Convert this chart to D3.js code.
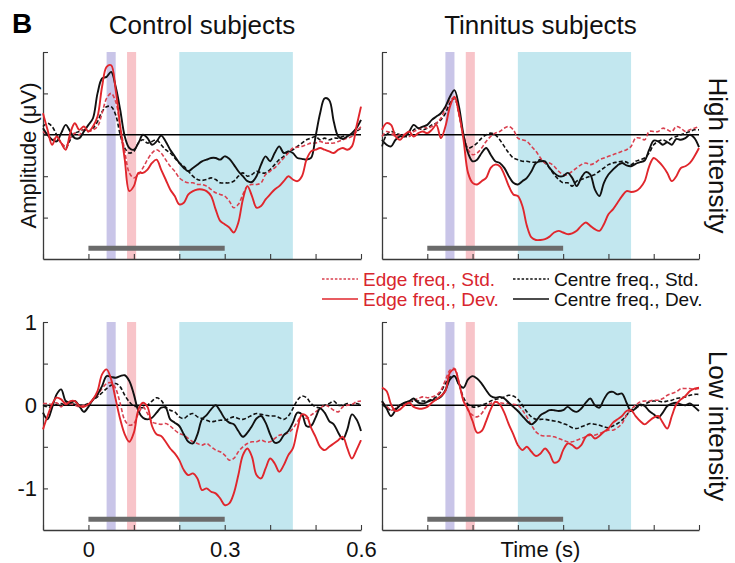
<!DOCTYPE html>
<html><head><meta charset="utf-8">
<script src="https://cdn.jsdelivr.net/npm/d3@7"></script>
<style>
body{margin:0;background:#fff}
svg{display:block}
text{font-family:"Liberation Sans",Arial,Helvetica,sans-serif}
</style>
</head><body>
<svg id="chart" width="735" height="563"></svg>
<script>
// ---------- DATA ----------
// sampling grid of the waveforms (s)
const times = d3.range(-10, 61).map(i => i / 100);
const xTicks = [-0.1, 0, 0.1, 0.2, 0.3, 0.4, 0.5, 0.6];
const xTickLabels = ["0", "0.3", "0.6"];           // shown at 0, 0.3, 0.6
const xTickLabelValues = [0, 0.3, 0.6];
const yTicks = [1, 0.5, 0, -0.5, -1];
const yTickLabelValues = [1, 0, -1];
const yDomain = [-1.5, 1];
const xDomain = [-0.1, 0.6];
const bandRanges = [[0.04, 0.06], [0.085, 0.105], [0.2, 0.45]];
const grayBarRange = [0, 0.3];
const grayBarLevel = -1.37;
const columnTitles = ["Control subjects", "Tinnitus subjects"];
const rowTitles = ["High intensity", "Low intensity"];
const legendLabels = ["Edge freq., Std.", "Edge freq., Dev.", "Centre freq., Std.", "Centre freq., Dev."];

// Control, high intensity
const ctrlHighEdgeStd = [0.04,0.00,-0.06,-0.04,-0.10,-0.14,-0.04,0.02,0.00,0.06,
 0.04,0.06,0.10,0.26,0.44,0.50,0.40,0.10,-0.20,-0.46,
 -0.52,-0.48,-0.40,-0.30,-0.22,-0.18,-0.22,-0.30,-0.38,-0.44,
 -0.52,-0.56,-0.58,-0.58,-0.60,-0.60,-0.62,-0.66,-0.70,-0.72,
 -0.74,-0.80,-0.88,-0.84,-0.72,-0.62,-0.60,-0.60,-0.58,-0.48,
 -0.44,-0.40,-0.34,-0.28,-0.22,-0.16,-0.15,-0.14,-0.12,-0.10,
 -0.10,-0.08,-0.10,-0.10,-0.10,-0.08,-0.06,-0.04,-0.02,0.04,
 0.10];
const ctrlHighEdgeDev = [0.26,0.06,-0.12,-0.02,-0.10,-0.18,0.02,0.14,0.06,0.10,
 0.04,0.10,0.22,0.58,0.82,0.84,0.54,0.10,-0.30,-0.68,
 -0.62,-0.46,-0.46,-0.42,-0.34,-0.30,-0.42,-0.54,-0.66,-0.74,
 -0.84,-0.82,-0.72,-0.68,-0.66,-0.66,-0.68,-0.74,-0.90,-1.04,
 -1.08,-1.12,-1.18,-1.06,-0.78,-0.62,-0.74,-0.88,-0.86,-0.78,
 -0.72,-0.66,-0.62,-0.56,-0.50,-0.54,-0.56,-0.50,-0.30,-0.20,
 -0.18,-0.16,-0.18,-0.20,-0.22,-0.18,-0.16,-0.18,-0.14,0.10,
 0.34];
const ctrlHighCentreStd = [0.10,0.14,0.10,0.00,-0.10,-0.16,-0.06,0.02,0.04,0.06,
 0.04,0.08,0.16,0.28,0.34,0.34,0.24,0.00,-0.16,-0.22,
 -0.20,-0.10,-0.06,-0.10,-0.08,-0.06,-0.12,-0.18,-0.22,-0.28,
 -0.34,-0.38,-0.44,-0.50,-0.54,-0.55,-0.54,-0.52,-0.54,-0.58,
 -0.58,-0.58,-0.56,-0.50,-0.46,-0.50,-0.48,-0.44,-0.46,-0.46,
 -0.42,-0.36,-0.30,-0.26,-0.20,-0.18,-0.14,-0.10,-0.06,-0.04,
 -0.02,-0.06,-0.04,-0.06,-0.04,-0.04,-0.02,0.00,0.00,0.04,
 0.08];
const ctrlHighCentreDev = [0.08,0.00,-0.06,-0.08,0.02,0.12,0.04,-0.04,-0.04,0.04,
 0.12,0.20,0.50,0.68,0.70,0.76,0.58,0.30,-0.02,-0.16,
 -0.18,-0.10,0.00,-0.04,-0.12,-0.08,-0.01,-0.08,-0.18,-0.26,
 -0.34,-0.40,-0.44,-0.40,-0.36,-0.32,-0.30,-0.28,-0.28,-0.30,
 -0.26,-0.29,-0.36,-0.44,-0.50,-0.56,-0.57,-0.50,-0.36,-0.26,
 -0.32,-0.22,-0.14,-0.22,-0.20,-0.22,-0.28,-0.29,-0.30,-0.28,
 -0.02,0.26,0.44,0.42,0.16,-0.02,-0.05,-0.02,0.02,0.08,
 0.18];

// Tinnitus, high intensity
const tinHighEdgeStd = [-0.02,0.04,0.02,-0.02,0.00,0.00,-0.02,0.04,0.06,0.10,
 0.08,0.10,0.14,0.20,0.32,0.42,0.44,0.24,0.00,-0.18,
 -0.24,-0.22,-0.16,-0.08,-0.02,0.02,0.04,0.08,0.10,0.06,
 -0.04,-0.06,-0.08,-0.14,-0.20,-0.28,-0.34,-0.34,-0.38,-0.44,
 -0.48,-0.48,-0.44,-0.40,-0.36,-0.34,-0.36,-0.34,-0.30,-0.28,
 -0.26,-0.24,-0.22,-0.20,-0.18,-0.14,-0.04,-0.04,-0.06,0.04,
 0.04,0.04,0.08,0.06,0.04,0.10,0.08,0.04,0.06,0.08,
 0.10];
const tinHighEdgeDev = [0.06,0.14,0.12,-0.02,-0.06,0.00,0.04,-0.02,0.02,0.04,
 0.02,0.06,0.12,-0.04,0.10,0.34,0.46,0.26,-0.06,-0.46,
 -0.58,-0.60,-0.56,-0.52,-0.40,-0.36,-0.38,-0.48,-0.62,-0.72,
 -0.74,-0.86,-1.10,-1.24,-1.27,-1.27,-1.26,-1.23,-1.18,-1.16,
 -1.18,-1.20,-1.19,-1.16,-1.10,-1.06,-1.10,-1.14,-1.16,-1.08,
 -0.96,-0.90,-0.82,-0.74,-0.68,-0.69,-0.68,-0.64,-0.56,-0.38,
 -0.28,-0.32,-0.38,-0.46,-0.56,-0.50,-0.40,-0.38,-0.34,-0.26,
 -0.16];
const tinHighCentreStd = [-0.14,0.00,0.04,0.02,0.00,-0.02,-0.02,0.06,0.08,0.06,
 0.08,0.12,0.14,0.18,0.26,0.38,0.44,0.26,-0.02,-0.16,
 -0.14,-0.10,-0.04,0.00,0.02,0.00,-0.06,-0.14,-0.22,-0.28,
 -0.30,-0.32,-0.32,-0.33,-0.33,-0.30,-0.34,-0.40,-0.48,-0.54,
 -0.58,-0.58,-0.62,-0.56,-0.54,-0.52,-0.50,-0.48,-0.44,-0.40,
 -0.36,-0.34,-0.33,-0.32,-0.33,-0.36,-0.32,-0.30,-0.28,-0.22,
 -0.12,-0.08,-0.06,-0.08,-0.04,-0.02,0.00,0.02,0.04,0.06,
 0.06];
const tinHighCentreDev = [-0.06,-0.12,-0.14,-0.06,-0.02,-0.02,0.04,0.12,0.08,0.10,
 0.12,0.18,0.22,0.26,0.34,0.46,0.54,0.34,0.00,-0.22,
 -0.32,-0.30,-0.22,-0.16,-0.24,-0.32,-0.34,-0.40,-0.50,-0.58,
 -0.60,-0.56,-0.52,-0.44,-0.34,-0.32,-0.32,-0.40,-0.46,-0.50,
 -0.50,-0.46,-0.52,-0.62,-0.52,-0.45,-0.48,-0.66,-0.74,-0.58,
 -0.48,-0.42,-0.37,-0.34,-0.37,-0.38,-0.35,-0.33,-0.31,-0.18,
 -0.07,-0.08,-0.12,-0.09,-0.12,-0.05,-0.06,-0.04,0.00,-0.04,
 -0.15];

// Control, low intensity
const ctrlLowEdgeStd = [0.02,0.02,0.01,0.03,-0.02,0.04,0.02,0.00,-0.02,0.00,
 0.01,0.06,0.12,0.20,0.26,0.27,0.20,0.02,-0.18,-0.24,
 -0.22,-0.10,-0.02,-0.10,-0.20,-0.22,-0.23,-0.22,-0.25,-0.30,
 -0.34,-0.36,-0.40,-0.44,-0.46,-0.48,-0.46,-0.50,-0.54,-0.56,
 -0.60,-0.66,-0.64,-0.56,-0.50,-0.46,-0.44,-0.44,-0.42,-0.44,
 -0.44,-0.40,-0.36,-0.35,-0.33,-0.28,-0.20,-0.12,-0.16,-0.12,
 -0.08,-0.04,0.00,-0.02,-0.06,-0.08,-0.02,0.00,0.01,0.04,
 0.05];
const ctrlLowEdgeDev = [-0.29,-0.13,0.01,0.09,0.07,0.01,0.05,0.05,-0.01,-0.02,
 0.01,0.07,0.17,0.37,0.43,0.31,0.07,-0.17,-0.35,-0.44,
 -0.33,-0.05,0.03,-0.02,-0.25,-0.35,-0.37,-0.44,-0.52,-0.58,
 -0.66,-0.78,-0.84,-0.82,-0.88,-1.02,-1.00,-1.04,-1.06,-1.12,
 -1.20,-1.18,-1.06,-0.84,-0.60,-0.52,-0.62,-0.84,-0.88,-0.76,
 -0.64,-0.70,-0.80,-0.72,-0.60,-0.52,-0.29,-0.11,-0.13,-0.27,
 -0.38,-0.50,-0.54,-0.50,-0.46,-0.42,-0.38,-0.52,-0.64,-0.54,
 -0.42];
const ctrlLowCentreStd = [0.00,-0.02,-0.02,0.01,0.02,0.00,0.02,0.01,0.00,0.00,
 0.02,0.06,0.10,0.15,0.20,0.24,0.26,0.22,0.12,0.04,
 -0.01,-0.02,-0.03,0.00,0.05,0.09,0.06,-0.02,-0.06,-0.08,
 -0.14,-0.16,-0.12,-0.10,-0.14,-0.16,-0.18,-0.20,-0.19,-0.18,
 -0.18,-0.16,-0.14,-0.16,-0.17,-0.15,-0.12,-0.10,-0.11,-0.12,
 -0.13,-0.13,-0.15,-0.17,-0.13,-0.04,0.06,0.11,0.09,0.02,
 -0.02,-0.03,0.00,0.02,0.05,0.00,0.00,0.02,0.00,0.02,
 0.00];
const ctrlLowCentreDev = [-0.09,-0.17,-0.03,0.13,0.19,0.05,0.03,0.05,-0.01,-0.08,
 -0.02,0.07,0.13,0.23,0.35,0.34,0.33,0.35,0.36,0.29,
 0.13,-0.07,-0.15,-0.17,-0.15,-0.09,-0.03,-0.03,-0.17,-0.21,
 -0.25,-0.35,-0.44,-0.46,-0.35,-0.17,-0.12,-0.05,0.00,-0.07,
 -0.16,-0.21,-0.23,-0.31,-0.38,-0.33,-0.25,-0.16,-0.13,-0.21,
 -0.35,-0.45,-0.44,-0.36,-0.31,-0.21,-0.09,-0.11,-0.25,-0.25,
 -0.15,-0.04,-0.09,-0.19,-0.23,-0.33,-0.41,-0.29,-0.11,-0.17,
 -0.31];

// Tinnitus, low intensity
const tinLowEdgeStd = [0.04,-0.01,-0.06,-0.04,0.00,0.02,0.04,0.06,0.08,0.10,
 0.09,0.10,0.12,0.18,0.30,0.42,0.44,0.28,0.06,-0.06,
 -0.12,-0.14,-0.10,-0.02,0.02,0.04,0.03,0.02,0.02,0.01,
 0.00,-0.06,-0.14,-0.24,-0.32,-0.36,-0.37,-0.37,-0.38,-0.40,
 -0.42,-0.44,-0.44,-0.42,-0.40,-0.38,-0.36,-0.36,-0.34,-0.32,
 -0.30,-0.30,-0.27,-0.22,-0.12,-0.05,0.00,0.04,0.05,0.05,
 0.06,0.06,0.08,0.12,0.14,0.16,0.20,0.20,0.20,0.19,
 0.20];
const tinLowEdgeDev = [0.21,0.17,0.01,-0.07,-0.05,0.00,0.03,-0.02,-0.04,-0.04,
 -0.02,0.03,0.07,0.11,0.17,0.39,0.43,0.27,0.05,-0.05,
 -0.19,-0.33,-0.31,-0.19,-0.05,0.04,0.01,-0.09,-0.23,-0.35,
 -0.48,-0.54,-0.50,-0.56,-0.61,-0.58,-0.52,-0.58,-0.69,-0.67,
 -0.54,-0.46,-0.48,-0.52,-0.48,-0.38,-0.35,-0.40,-0.37,-0.32,
 -0.28,-0.21,-0.17,-0.13,-0.07,-0.06,-0.13,-0.19,-0.23,-0.19,
 -0.15,-0.13,-0.21,-0.28,-0.13,0.01,0.07,0.11,0.17,0.20,
 0.21];
const tinLowCentreStd = [0.01,-0.03,-0.06,-0.04,0.00,0.03,0.04,0.05,0.05,0.05,
 0.05,0.07,0.10,0.16,0.26,0.34,0.35,0.25,0.09,0.01,
 -0.02,-0.02,0.00,0.02,0.05,0.07,0.08,0.10,0.12,0.11,
 0.07,0.00,-0.08,-0.14,-0.17,-0.17,-0.17,-0.18,-0.19,-0.20,
 -0.22,-0.24,-0.27,-0.28,-0.26,-0.24,-0.22,-0.23,-0.24,-0.26,
 -0.27,-0.25,-0.22,-0.18,-0.12,-0.06,-0.03,-0.01,0.01,0.04,
 0.05,0.05,0.04,0.05,0.06,0.08,0.09,0.10,0.12,0.13,
 0.13];
const tinLowCentreDev = [0.05,-0.04,-0.13,-0.06,0.00,0.03,0.05,0.08,0.03,0.02,
 0.04,0.06,0.07,0.10,0.18,0.31,0.35,0.25,0.21,0.31,
 0.35,0.32,0.26,0.18,0.11,0.09,0.10,0.08,0.03,-0.02,
 -0.07,-0.13,-0.19,-0.23,-0.19,-0.12,-0.09,-0.06,-0.06,-0.07,
 -0.06,-0.02,-0.06,-0.08,-0.04,0.03,0.08,0.00,-0.03,0.07,
 0.15,0.16,0.13,0.14,0.03,-0.07,-0.04,0.01,-0.01,-0.07,
 -0.11,-0.15,-0.09,-0.01,0.02,0.03,0.01,0.00,0.02,-0.02,
 -0.07];

// ---------- STYLE / LAYOUT ----------
const RED = "#e0262c", RED_DASH = "#d9404f", BLACK = "#111111";
const bandColors = ["#c9c5e8", "#f8c4c9", "#c2e7ef"];
const colX = [[43, 361], [382, 699]];
const rowY = [[52, 259], [322, 530]];
const FONT = "'Liberation Sans', Arial, sans-serif";

const panels = [
  {col: 0, row: 0, s: [ctrlHighCentreStd, ctrlHighEdgeStd, ctrlHighCentreDev, ctrlHighEdgeDev]},
  {col: 1, row: 0, s: [tinHighCentreStd, tinHighEdgeStd, tinHighCentreDev, tinHighEdgeDev]},
  {col: 0, row: 1, s: [ctrlLowCentreStd, ctrlLowEdgeStd, ctrlLowCentreDev, ctrlLowEdgeDev]},
  {col: 1, row: 1, s: [tinLowCentreStd, tinLowEdgeStd, tinLowCentreDev, tinLowEdgeDev]}
];
const seriesStyle = [
  {color: BLACK, dash: "4,2.2", width: 1.6},
  {color: RED_DASH, dash: "4,2.2", width: 1.6},
  {color: BLACK, dash: null, width: 1.9},
  {color: RED, dash: null, width: 1.9}
];

const svg = d3.select("#chart");

panels.forEach(p => {
  const [x0, x1] = colX[p.col];
  const [yt, yb] = rowY[p.row];
  const x = d3.scaleLinear().domain(xDomain).range([x0, x1]);
  const y = d3.scaleLinear().domain(yDomain).range([yb, yt]);
  const g = svg.append("g");

  // shaded windows
  g.selectAll("rect.band").data(bandRanges).join("rect")
    .attr("x", d => x(d[0])).attr("width", d => x(d[1]) - x(d[0]))
    .attr("y", yt).attr("height", yb - yt)
    .attr("fill", (d, i) => bandColors[i]);

  // grey stimulus bar
  g.append("line")
    .attr("x1", x(grayBarRange[0])).attr("x2", x(grayBarRange[1]))
    .attr("y1", y(grayBarLevel)).attr("y2", y(grayBarLevel))
    .attr("stroke", "#6b6b6b").attr("stroke-width", 5);

  // zero line
  g.append("line")
    .attr("x1", x0).attr("x2", x1).attr("y1", y(0)).attr("y2", y(0))
    .attr("stroke", "#000").attr("stroke-width", 1.6);

  // axes
  const showLabels = p.col === 0 && p.row === 1;
  const xAxis = d3.axisBottom(x).tickValues(xTicks).tickSize(-5).tickSizeOuter(0).tickPadding(11)
    .tickFormat(v => {
      if (!showLabels) return "";
      const k = xTickLabelValues.findIndex(t => Math.abs(t - v) < 1e-9);
      return k >= 0 ? xTickLabels[k] : "";
    });
  const yAxis = d3.axisLeft(y).tickValues(yTicks).tickSize(-5).tickSizeOuter(0).tickPadding(6)
    .tickFormat(v => (showLabels && yTickLabelValues.includes(v)) ? (v < 0 ? "-" + Math.abs(v) : String(v)) : "");
  const gx = g.append("g").attr("transform", `translate(0,${yb})`).call(xAxis);
  const gy = g.append("g").attr("transform", `translate(${x0},0)`).call(yAxis);
  [gx, gy].forEach(a => {
    a.select(".domain").attr("stroke", "#3a3a3a").attr("stroke-width", 1.3);
    a.selectAll(".tick line").attr("stroke", "#3a3a3a").attr("stroke-width", 1.1);
    a.selectAll(".tick text").attr("fill", "#111").style("font-size", "22px").style("font-family", FONT);
  });

  // waveforms
  const line = d3.line().x((d, i) => x(times[i])).y(d => y(d)).curve(d3.curveCatmullRom.alpha(0.5));
  p.s.forEach((vals, i) => {
    const st = seriesStyle[i];
    g.append("path").attr("d", line(vals)).attr("fill", "none")
      .attr("stroke", st.color).attr("stroke-width", st.width)
      .attr("stroke-dasharray", st.dash).attr("stroke-linejoin", "round");
  });
});

// titles
svg.append("text").attr("x", 12).attr("y", 33).text("B")
  .style("font-size", "28px").style("font-weight", "bold").attr("fill", "#000");
columnTitles.forEach((t, i) => {
  svg.append("text").attr("x", (colX[i][0] + colX[i][1]) / 2).attr("y", 34)
    .attr("text-anchor", "middle").style("font-size", "26px").attr("fill", "#111").text(t);
});
rowTitles.forEach((t, i) => {
  const cy = (rowY[i][0] + rowY[i][1]) / 2;
  svg.append("text").attr("transform", `translate(709,${cy}) rotate(90)`)
    .attr("text-anchor", "middle").style("font-size", "26px").attr("fill", "#111").text(t);
});
svg.append("text").attr("transform", `translate(36,${(rowY[0][0] + rowY[0][1]) / 2}) rotate(-90)`)
  .attr("text-anchor", "middle").style("font-size", "22px").attr("fill", "#111").text("Amplitude (μV)");
svg.append("text").attr("x", (colX[1][0] + colX[1][1]) / 2).attr("y", 557)
  .attr("text-anchor", "middle").style("font-size", "22px").attr("fill", "#111").text("Time (s)");

// legend
const legendItems = [
  {label: legendLabels[0], color: RED_DASH, text: "#d8262e", dash: "2.5,1.8", lx: 322, ly: 279},
  {label: legendLabels[1], color: RED, text: "#d8262e", dash: null, lx: 322, ly: 299},
  {label: legendLabels[2], color: BLACK, text: "#111", dash: "2.5,1.8", lx: 513, ly: 279},
  {label: legendLabels[3], color: BLACK, text: "#111", dash: null, lx: 513, ly: 299}
];
legendItems.forEach(it => {
  svg.append("line").attr("x1", it.lx).attr("x2", it.lx + 36).attr("y1", it.ly).attr("y2", it.ly)
    .attr("stroke", it.color).attr("stroke-width", 1.5).attr("stroke-dasharray", it.dash);
  svg.append("text").attr("x", it.lx + 41).attr("y", it.ly).attr("dy", "0.36em")
    .style("font-size", "19px").attr("fill", it.text).text(it.label);
});
</script>
</body></html>
